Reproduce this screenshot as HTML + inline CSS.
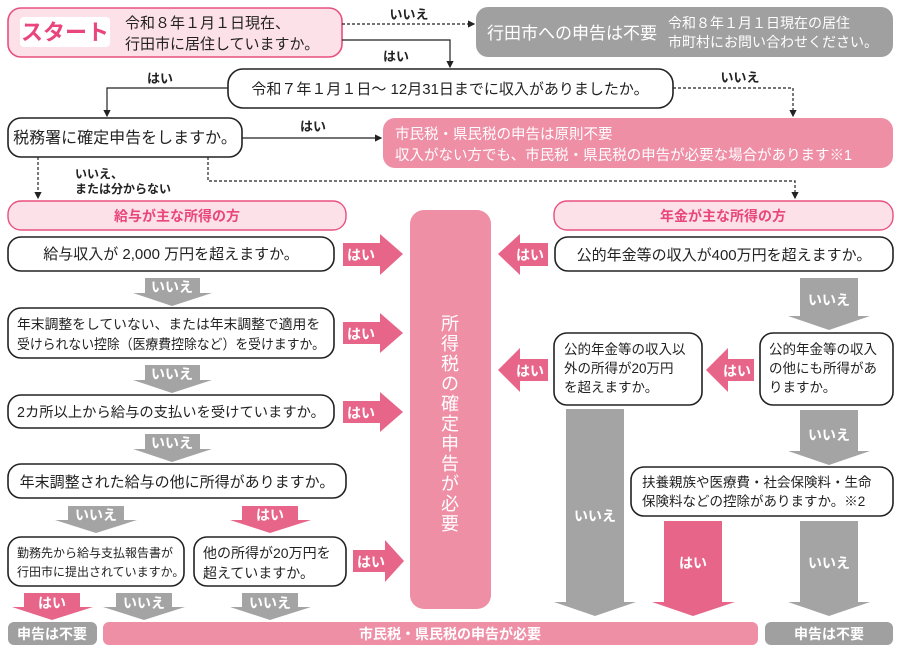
<!DOCTYPE html>
<html><head><meta charset="utf-8"><style>
html,body{margin:0;padding:0;background:#fff;width:900px;height:652px;overflow:hidden}
svg{display:block;font-family:"Liberation Sans","Noto Sans CJK JP",sans-serif}
.q{fill:#fff;stroke:#222;stroke-width:1.6}
.t{font-size:15px;fill:#222}
.w{fill:#fff;font-weight:bold}
.pa{fill:#e8658a}
.ga{fill:#a4a4a4}
.lb{font-size:13px;fill:#222;font-weight:bold}
</style></head><body>
<svg width="900" height="652" viewBox="0 0 900 652" xmlns="http://www.w3.org/2000/svg">
<defs><marker id="ah" markerWidth="6" markerHeight="6" refX="5" refY="3" orient="auto"><path d="M0,0 L6,3 L0,6z" fill="#222"/></marker></defs>

<!-- start -->
<rect x="8" y="8" width="334" height="49" rx="13" fill="#fde1e8" stroke="#e8507e" stroke-width="1.6"/>
<rect x="20" y="17" width="90" height="30" rx="4" fill="#fff"/>
<text x="65" y="40" text-anchor="middle" font-size="22" font-weight="bold" fill="#e8467c">スタート</text>
<text x="125" y="28" class="t">令和８年１月１日現在、</text>
<text x="125" y="49" class="t">行田市に居住していますか。</text>

<line x1="342" y1="24" x2="474" y2="24" stroke="#222" stroke-width="1.2" stroke-dasharray="3,2" marker-end="url(#ah)"/>
<text x="409" y="19" text-anchor="middle" class="lb">いいえ</text>
<polyline points="342,40 450,40 450,67" fill="none" stroke="#222" stroke-width="1.2" marker-end="url(#ah)"/>
<text x="396" y="61" text-anchor="middle" class="lb">はい</text>

<rect x="476" y="7" width="417" height="50" rx="12" fill="#a0a0a0"/>
<text x="487" y="39" font-size="17" fill="#fff">行田市への申告は不要</text>
<text x="668" y="28" font-size="14" fill="#fff">令和８年１月１日現在の居住</text>
<text x="668" y="47" font-size="14" fill="#fff">市町村にお問い合わせください。</text>

<rect x="228" y="69" width="445" height="39" rx="15" class="q"/>
<text x="450" y="94" text-anchor="middle" class="t">令和７年１月１日〜 12月31日までに収入がありましたか。</text>
<polyline points="228,88 107,88 107,116" fill="none" stroke="#222" stroke-width="1.2" marker-end="url(#ah)"/>
<text x="160" y="83" text-anchor="middle" class="lb">はい</text>
<polyline points="673,88 793,88 793,116" fill="none" stroke="#222" stroke-width="1.2" stroke-dasharray="3,2" marker-end="url(#ah)"/>
<text x="740" y="82" text-anchor="middle" class="lb">いいえ</text>

<rect x="8" y="118" width="234" height="39" rx="13" class="q"/>
<text x="125" y="143" text-anchor="middle" font-size="16" fill="#222">税務署に確定申告をしますか。</text>
<line x1="242" y1="138" x2="381" y2="138" stroke="#222" stroke-width="1.2" marker-end="url(#ah)"/>
<text x="313" y="131" text-anchor="middle" class="lb">はい</text>

<rect x="383" y="118" width="510" height="50" rx="12" fill="#ee8fa6"/>
<text x="395" y="139" font-size="14.5" fill="#fff">市民税・県民税の申告は原則不要</text>
<text x="395" y="160" font-size="14.5" fill="#fff">収入がない方でも、市民税・県民税の申告が必要な場合があります※1</text>

<line x1="38" y1="157" x2="38" y2="198" stroke="#222" stroke-width="1.2" stroke-dasharray="3,2" marker-end="url(#ah)"/>
<text x="75" y="178" font-size="12" fill="#222" font-weight="bold">いいえ、</text>
<text x="75" y="193" font-size="12" fill="#222" font-weight="bold">または分からない</text>
<polyline points="208,157 208,181 795,181 795,198" fill="none" stroke="#222" stroke-width="1.2" stroke-dasharray="3,2" marker-end="url(#ah)"/>

<!-- headers -->
<rect x="8" y="201" width="338" height="29" rx="13" fill="#fde1e8" stroke="#e8507e" stroke-width="1.4"/>
<text x="177" y="221" text-anchor="middle" font-size="14" fill="#e8467c" font-weight="bold">給与が主な所得の方</text>
<rect x="554" y="201" width="339" height="29" rx="13" fill="#fde1e8" stroke="#e8507e" stroke-width="1.4"/>
<text x="723" y="221" text-anchor="middle" font-size="14" fill="#e8467c" font-weight="bold">年金が主な所得の方</text>

<!-- center -->
<rect x="410" y="210" width="81" height="399" rx="14" fill="#ee8fa6"/>
<g font-size="18" fill="#fff" text-anchor="middle">
<text x="450" y="330">所</text><text x="450" y="350">得</text><text x="450" y="370">税</text><text x="450" y="390">の</text><text x="450" y="410">確</text><text x="450" y="430">定</text><text x="450" y="450">申</text><text x="450" y="470">告</text><text x="450" y="490">が</text><text x="450" y="510">必</text><text x="450" y="530">要</text>
</g>

<!-- left questions -->
<rect x="8" y="237" width="326" height="34" rx="13" class="q"/>
<text x="171" y="259" text-anchor="middle" class="t">給与収入が 2,000 万円を超えますか。</text>
<rect x="8" y="308" width="326" height="50" rx="13" class="q"/>
<text x="17" y="329" font-size="13.8" fill="#222">年末調整をしていない、または年末調整で適用を</text>
<text x="17" y="349" font-size="13.8" fill="#222" textLength="308" lengthAdjust="spacingAndGlyphs">受けられない控除（医療費控除など）を受けますか。</text>
<rect x="8" y="395" width="326" height="33" rx="13" class="q"/>
<text x="171" y="417" text-anchor="middle" font-size="14.3" fill="#222">2カ所以上から給与の支払いを受けていますか。</text>
<rect x="8" y="464" width="338" height="34" rx="13" class="q"/>
<text x="177" y="487" text-anchor="middle" class="t">年末調整された給与の他に所得がありますか。</text>
<rect x="8" y="537" width="176" height="49" rx="13" class="q"/>
<text x="17" y="557" font-size="12" fill="#222">勤務先から給与支払報告書が</text>
<text x="17" y="576" font-size="12" fill="#222">行田市に提出されていますか。</text>
<rect x="194" y="537" width="152" height="49" rx="13" class="q"/>
<text x="203" y="558" font-size="14" fill="#222">他の所得が20万円を</text>
<text x="203" y="578" font-size="14" fill="#222">超えていますか。</text>

<!-- right-pointing はい arrows -->
<g>
<polygon class="pa" points="343,243 380,243 380,234 403,254 380,275 380,266 343,266"/><text x="361" y="260" text-anchor="middle" font-size="14" class="w">はい</text>
<polygon class="pa" points="343,322 380,322 380,313 403,333 380,353 380,344 343,344"/><text x="361" y="339" text-anchor="middle" font-size="14" class="w">はい</text>
<polygon class="pa" points="343,401 380,401 380,392 403,412 380,432 380,423 343,423"/><text x="361" y="418" text-anchor="middle" font-size="14" class="w">はい</text>
<polygon class="pa" points="353,550 385,550 385,540 404,561 385,582 385,572 353,572"/><text x="371" y="567" text-anchor="middle" font-size="14" class="w">はい</text>
</g>

<!-- left down arrows -->
<polygon class="ga" points="145,278 200,278 200,293 212,293 172,306 133,293 145,293"/><text x="172" y="292" text-anchor="middle" font-size="14" class="w">いいえ</text>
<polygon class="ga" points="145,365 200,365 200,380 212,380 172,393 133,380 145,380"/><text x="172" y="379" text-anchor="middle" font-size="14" class="w">いいえ</text>
<polygon class="ga" points="145,434 200,434 200,449 212,449 172,462 133,449 145,449"/><text x="172" y="448" text-anchor="middle" font-size="14" class="w">いいえ</text>
<polygon class="ga" points="68,506 124,506 124,520 137,520 96,533 55,520 68,520"/><text x="96" y="520" text-anchor="middle" font-size="14" class="w">いいえ</text>
<polygon class="pa" points="242,506 298,506 298,520 311,520 270,533 230,520 242,520"/><text x="270" y="520" text-anchor="middle" font-size="14" class="w">はい</text>
<polygon class="pa" points="24,593 80,593 80,607 93,607 52,620 12,607 24,607"/><text x="52" y="608" text-anchor="middle" font-size="14" class="w">はい</text>
<polygon class="ga" points="116,593 172,593 172,607 185,607 144,620 103,607 116,607"/><text x="144" y="608" text-anchor="middle" font-size="14" class="w">いいえ</text>
<polygon class="ga" points="242,593 298,593 298,607 311,607 270,620 230,607 242,607"/><text x="270" y="608" text-anchor="middle" font-size="14" class="w">いいえ</text>

<!-- bottom bars -->
<rect x="8" y="622" width="89" height="23" rx="6" fill="#a0a0a0"/>
<text x="52" y="639" text-anchor="middle" font-size="14" class="w">申告は不要</text>
<rect x="103" y="622" width="655" height="23" rx="6" fill="#ee8fa6"/>
<text x="450" y="639" text-anchor="middle" font-size="14" class="w">市民税・県民税の申告が必要</text>
<rect x="765" y="622" width="128" height="23" rx="6" fill="#a0a0a0"/>
<text x="829" y="639" text-anchor="middle" font-size="14" class="w">申告は不要</text>

<!-- right column -->
<rect x="555" y="237" width="338" height="34" rx="13" class="q"/>
<text x="724" y="260" text-anchor="middle" class="t">公的年金等の収入が400万円を超えますか。</text>
<polygon class="pa" points="548,243 520,243 520,234 498,254 520,275 520,266 548,266"/><text x="530" y="260" text-anchor="middle" font-size="14" class="w">はい</text>
<polygon class="ga" points="800,278 858,278 858,316 870,316 829,330 788,316 800,316"/><text x="829" y="305" text-anchor="middle" font-size="14" class="w">いいえ</text>

<rect x="554" y="333" width="148" height="72" rx="13" class="q"/>
<text x="564" y="354" font-size="13.5" fill="#222">公的年金等の収入以</text>
<text x="564" y="373" font-size="13.5" fill="#222">外の所得が20万円</text>
<text x="564" y="392" font-size="13.5" fill="#222">を超えますか。</text>
<rect x="760" y="333" width="133" height="72" rx="13" class="q"/>
<text x="769" y="354" font-size="13.5" fill="#222">公的年金等の収入</text>
<text x="769" y="373" font-size="13.5" fill="#222">の他にも所得があ</text>
<text x="769" y="392" font-size="13.5" fill="#222">りますか。</text>
<polygon class="pa" points="754,359 728,359 728,348 706,370 728,392 728,381 754,381"/><text x="737" y="376" text-anchor="middle" font-size="14" class="w">はい</text>
<polygon class="pa" points="548,359 520,359 520,348 498,370 520,392 520,381 548,381"/><text x="530" y="376" text-anchor="middle" font-size="14" class="w">はい</text>

<polygon class="ga" points="566,409 624,409 624,602 636,602 595,616 554,602 566,602"/><text x="595" y="521" text-anchor="middle" font-size="14" class="w">いいえ</text>
<polygon class="ga" points="800,410 858,410 858,451 870,451 829,465 788,451 800,451"/><text x="829" y="440" text-anchor="middle" font-size="14" class="w">いいえ</text>

<rect x="631" y="467" width="262" height="49" rx="13" class="q"/>
<text x="642" y="487" font-size="13.5" fill="#222">扶養親族や医療費・社会保険料・生命</text>
<text x="642" y="506" font-size="13.5" fill="#222">保険料などの控除がありますか。※2</text>

<polygon class="pa" points="664,521 722,521 722,602 735,602 693,616 652,602 664,602"/><text x="693" y="568" text-anchor="middle" font-size="14" class="w">はい</text>
<polygon class="ga" points="800,521 858,521 858,602 870,602 829,616 788,602 800,602"/><text x="829" y="568" text-anchor="middle" font-size="14" class="w">いいえ</text>
</svg>
</body></html>
